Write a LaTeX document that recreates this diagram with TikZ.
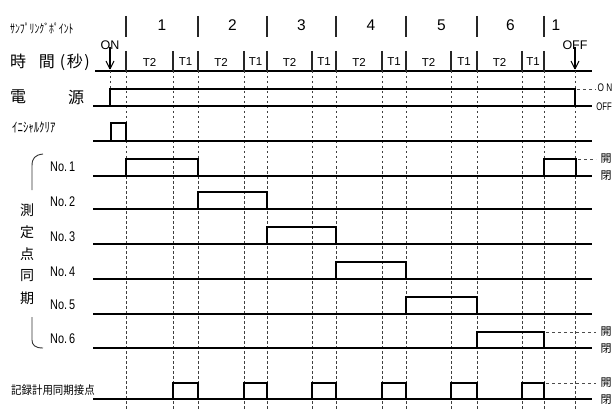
\documentclass[tikz,border=0pt]{standalone}
\usepackage{fontspec}
\setmainfont{Liberation Sans}
\newfontfamily\jp{Noto Sans CJK JP}
\usepackage{graphicx}
\begin{document}
\begin{tikzpicture}[x=1pt,y=-1pt,
  sig/.style={line width=2.8pt, line join=miter, line cap=butt},
  baseln/.style={line width=1.2pt},
  gridln/.style={line width=0.8pt, dash pattern=on 2.5pt off 2.5pt, black!75},
  lvl/.style={line width=0.8pt, dash pattern=on 3pt off 3pt, black!70},
  tickln/.style={line width=1.2pt, black!85},
  rule/.style={line width=1.4pt},
  lbl/.style={inner sep=0pt, anchor=west},
  jpl/.style={inner sep=0pt, font=\jp\fontsize{16pt}{18pt}\selectfont},
  numl/.style={inner sep=0pt, font=\fontsize{15.5pt}{18pt}\selectfont},
  tl/.style={inner sep=0pt, font=\fontsize{11.5pt}{13pt}\selectfont},
  nol/.style={inner sep=0pt, anchor=west},
  sidel/.style={inner sep=0pt, font=\jp\fontsize{11pt}{12pt}\selectfont},
  onoff/.style={inner sep=0pt}
]
\useasboundingbox (0,0) rectangle (614,412);

% ---------- header ----------
\node[lbl] (samp) at (10,28) {\jp\scalebox{0.78}[1]{\fontsize{12.5pt}{14pt}\selectfont ｻﾝﾌﾟﾘﾝｸﾞﾎﾟｲﾝﾄ}};
\node[jpl, anchor=west] (jikan) at (10,62) {時\hspace{0.8em}間\hspace{0.3em}(\hspace{0.1em}秒\hspace{0.1em})};
\node[jpl] (den) at (18,97) {電};
\node[jpl] (gen) at (76,97) {源};
\node[lbl] (init) at (12,128) {\jp\scalebox{0.8}[1]{\fontsize{13.5pt}{15pt}\selectfont ｲﾆｼｬﾙｸﾘｱ}};

% header rule
\coordinate (hl) at (95,71);
\coordinate (hr) at (592,71);
\draw[rule] (hl) -- (hr);

% top separators and numbers, time row
\draw[tickln] (126,16) -- (126,37);
\draw[tickln] (126,51) -- (126,71);
\foreach \s/\b/\e/\n in {126/173/198/1, 198/244/267/2, 267/312/336/3, 336/382/406/4, 406/451/477/5, 477/522/544/6}{
  \draw[tickln] (\e,16) -- (\e,37);
  \draw[tickln] (\b,51) -- (\b,71);
  \draw[tickln] (\e,51) -- (\e,71);
  \node[numl] (n\n) at ({(\s+\e)/2},25) {\n};
  \node[tl] (tt\n) at ({(\s+\b)/2},62) {T2};
  \node[tl] (to\n) at ({(\b+\e)/2},62) {T1};
  \draw[gridln] (\b,71) -- (\b,410);
  \draw[gridln] (\e,71) -- (\e,410);
}
\node[numl] (n7) at (556,25) {1};
\draw[gridln] (126,71) -- (126,410);
\draw[gridln] (575,71) -- (575,410);
\draw[gridln] (110,71) -- (110,89);

% ON / OFF arrows
\node[tl, font=\fontsize{12.5pt}{14pt}\selectfont] (on) at (110,45) {ON};
\node[tl, font=\fontsize{12.5pt}{14pt}\selectfont] (off) at (575,45) {OFF};
\coordinate (ona) at (110,69);
\coordinate (offa) at (575,69);
\draw[line width=1.1pt] (on.south) ++(0,-3) -- (ona);
\draw[line width=1.1pt] (ona) -- ++(-4,-8);
\draw[line width=1.1pt] (ona) -- ++(4,-8);
\draw[line width=1.1pt] (off.south) ++(0,-3) -- (offa);
\draw[line width=1.1pt] (offa) -- ++(-4,-8);
\draw[line width=1.1pt] (offa) -- ++(4,-8);

% ---------- power ----------
\draw[baseln] (93,106) -- (592,106);
\draw[sig] (93,106) -- (110,106) -- (110,89) -- (575,89) -- (575,106) -- (592,106);
\draw[lvl] (577,89) -- (596,89);
\node[onoff] (onl) at (605,88) {\scalebox{0.75}[1]{\fontsize{11pt}{12pt}\selectfont O N}};
\node[onoff] (offl) at (604,107) {\scalebox{0.7}[1]{\fontsize{11pt}{12pt}\selectfont OFF}};

% ---------- initial clear ----------
\draw[baseln] (93,141) -- (592,141);
\draw[sig] (93,141) -- (111,141) -- (111,123) -- (126,123) -- (126,141) -- (592,141);

% ---------- measuring points ----------
\draw[baseln] (93,176) -- (592,176);
\draw[sig] (93,176) -- (126,176) -- (126,159) -- (198,159) -- (198,176) -- (544,176) -- (544,159) -- (576,159) -- (576,176) -- (592,176);
\draw[lvl] (578,159) -- (596,159);
\node[sidel] (k1) at (606,159) {開};
\node[sidel] (h1) at (606,176) {閉};

\foreach \yb/\yh/\ra/\fa in {209/192/198/267, 244/227/267/336, 279/262/336/406, 314/297/406/477}{
  \draw[baseln] (93,\yb) -- (592,\yb);
  \draw[sig] (93,\yb) -- (\ra,\yb) -- (\ra,\yh) -- (\fa,\yh) -- (\fa,\yb) -- (592,\yb);
}
\draw[baseln] (93,348) -- (592,348);
\draw[sig] (93,348) -- (477,348) -- (477,332) -- (544,332) -- (544,348) -- (592,348);
\draw[lvl] (546,332) -- (596,332);
\node[sidel] (k6) at (606,332) {開};
\node[sidel] (h6) at (606,349) {閉};

\foreach \yy [count=\i] in {167,202,237,272,305,339}{
  \node[nol] (no\i) at (50,\yy) {\scalebox{0.78}[1]{\fontsize{14pt}{16pt}\selectfont No.\,\i}};
}

\foreach \c [count=\i] in {測,定,点,同,期}{
  \node[jpl, font=\jp\fontsize{14pt}{16pt}\selectfont] (v\i) at (27,{188+22*\i}) {\c};
}
\draw[line width=0.9pt, black!80] (43,154) .. controls (35,155) and (32,158) .. (32,166) -- (32,190);
\draw[line width=0.9pt, black!80] (32,317) -- (32,340) .. controls (32,345) and (35,348) .. (43,348);

% ---------- recorder sync contact ----------
\node[lbl] (rec) at (11,390) {\jp\scalebox{0.95}[1.05]{\fontsize{11pt}{12pt}\selectfont 記録計用同期接点}};
\draw[baseln] (93,399) -- (592,399);
\draw[sig] (93,399) -- (173,399) -- (173,383) -- (198,383) -- (198,399)
  -- (244,399) -- (244,383) -- (267,383) -- (267,399)
  -- (312,399) -- (312,383) -- (336,383) -- (336,399)
  -- (382,399) -- (382,383) -- (406,383) -- (406,399)
  -- (451,399) -- (451,383) -- (477,383) -- (477,399)
  -- (522,399) -- (522,383) -- (544,383) -- (544,399) -- (592,399);
\draw[lvl] (546,383) -- (596,383);
\node[sidel] (k7) at (606,383) {開};
\node[sidel] (h7) at (606,400) {閉};
\end{tikzpicture}
\end{document}
